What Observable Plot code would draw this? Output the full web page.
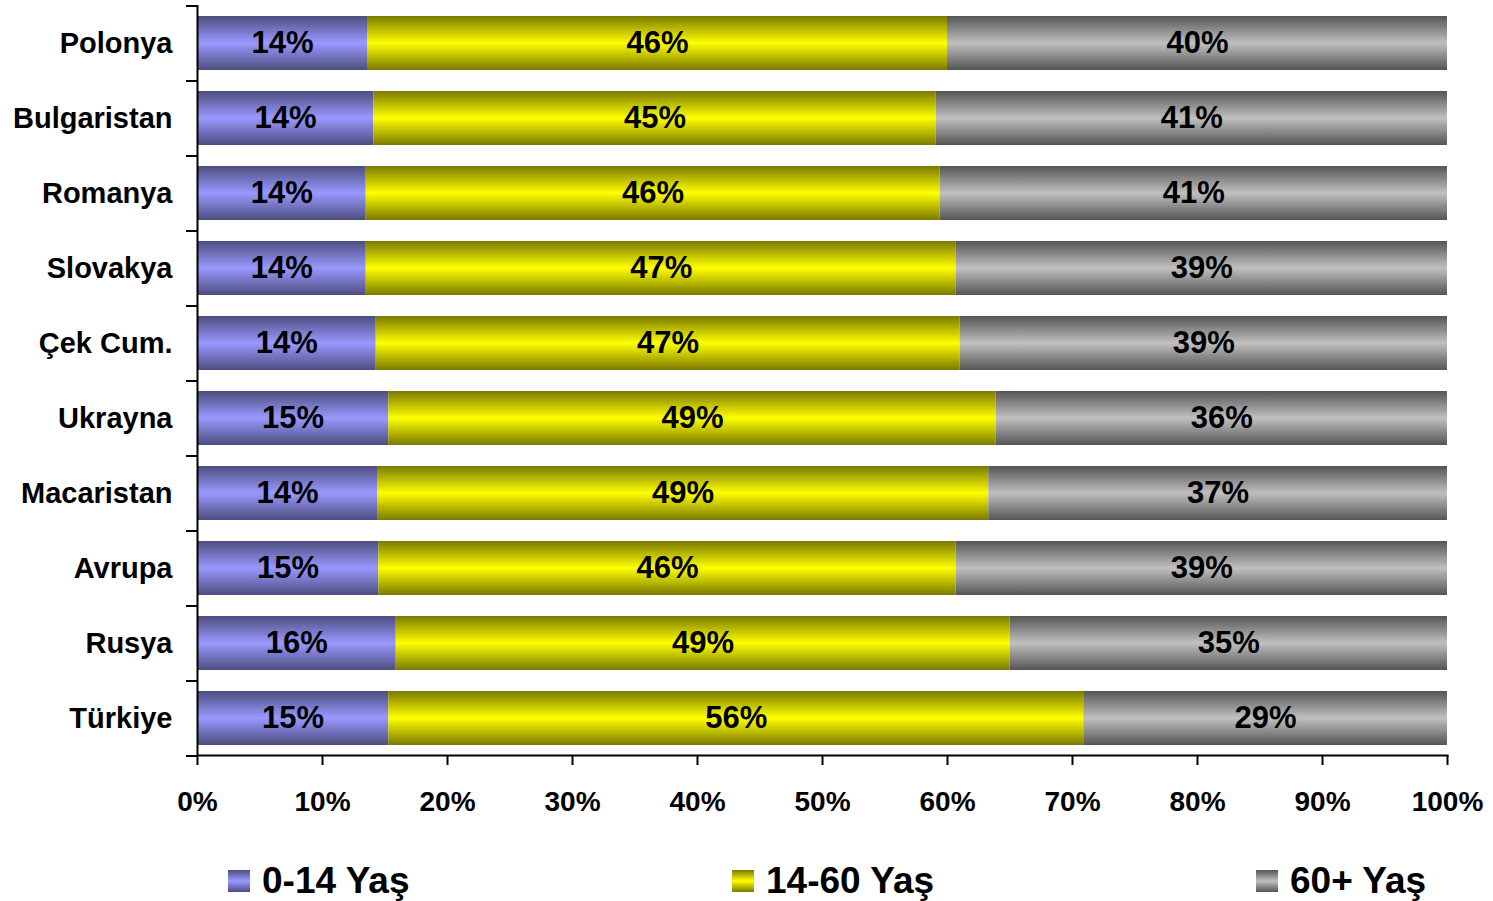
<!DOCTYPE html>
<html>
<head>
<meta charset="utf-8">
<script src="https://cdn.jsdelivr.net/npm/d3@7"></script>
<script src="https://cdn.jsdelivr.net/npm/@observablehq/plot@0.6"></script>
<style>
  html, body { margin: 0; padding: 0; background: #fff; }
  body { width: 1493px; height: 901px; overflow: hidden; font-family: "Liberation Sans", Arial, sans-serif; font-weight: bold; }
  #legend { position: relative; width: 1493px; height: 61px; }
  .item { position: absolute; top: 22px; display: flex; align-items: center; font-size: 37px; line-height: 37px; color: #000; }
  .sw { width: 22px; height: 22px; margin-right: 12px; }
</style>
</head>
<body>
<div id="chart"></div>
<div id="legend"></div>
<script>
const countries = ["Polonya", "Bulgaristan", "Romanya", "Slovakya", "Çek Cum.", "Ukrayna", "Macaristan", "Avrupa", "Rusya", "Türkiye"];
const series = ["0-14 Yaş", "14-60 Yaş", "60+ Yaş"];
const age0_14  = [13.6, 14.1, 13.5, 13.5, 14.3, 15.3, 14.4, 14.5, 15.9, 15.3];
const age14_60 = [46.4, 45.0, 45.9, 47.2, 46.7, 48.6, 48.9, 46.2, 49.1, 55.6];
const age60p   = [40.0, 40.9, 40.6, 39.3, 39.0, 36.1, 36.7, 39.3, 35.0, 29.1];
const xTicks = [0, 10, 20, 30, 40, 50, 60, 70, 80, 90, 100];

const gradients = [
  {id: "gBlue", edge: "#4d4d80", mid: "#9999ff"},
  {id: "gYellow", edge: "#7a7a00", mid: "#ffff00"},
  {id: "gGray", edge: "#555555", mid: "#c0c0c0"}
];

const cols = [age0_14, age14_60, age60p];
const data = [];
countries.forEach((c, i) => {
  series.forEach((s, j) => {
    data.push({country: c, series: s, value: cols[j][i]});
  });
});

const W = 1493, H = 840, mTop = 5, mBottom = 85;
const halfStep = (H - mTop - mBottom) / countries.length / 2;

const plot = Plot.plot({
  width: W,
  height: H,
  marginLeft: 197,
  marginRight: 46,
  marginTop: mTop,
  marginBottom: mBottom,
  style: {fontFamily: "'Liberation Sans', Arial, sans-serif", fontWeight: "bold", color: "#000", background: "#fff"},
  x: {domain: [0, 100], ticks: xTicks, tickFormat: d => d + "%"},
  y: {domain: countries, paddingInner: 0.28, paddingOuter: 0.14},
  color: {type: "ordinal", domain: series, range: gradients.map(g => `url(#${g.id})`)},
  marks: [
    Plot.barX(data, Plot.stackX({x: "value", y: "country", fill: "series", z: "series"})),
    Plot.text(data, Plot.stackX({x: "value", y: "country", z: "series", text: d => Math.round(d.value) + "%", fontSize: 31, fontWeight: "bold", fill: "#000"})),
    Plot.axisY({tickSize: 0, tickPadding: 25, fontSize: 29, fontWeight: "bold", label: null}),
    Plot.axisY({tickSize: 11, text: null, dy: -halfStep, strokeWidth: 2, label: null}),
    Plot.axisY([countries[countries.length - 1]], {tickSize: 11, text: null, dy: halfStep, strokeWidth: 2, label: null}),
    Plot.axisX({ticks: xTicks, tickSize: 10, tickPadding: 26, fontSize: 28, fontWeight: "bold", strokeWidth: 2, label: null, tickFormat: d => d + "%"}),
    Plot.ruleX([0], {strokeWidth: 2, stroke: "#000"}),
    Plot.frame({anchor: "bottom", strokeWidth: 2, stroke: "#000"})
  ]
});

// gradient definitions
const ns = "http://www.w3.org/2000/svg";
const defs = document.createElementNS(ns, "defs");
gradients.forEach(g => {
  const lg = document.createElementNS(ns, "linearGradient");
  lg.setAttribute("id", g.id);
  lg.setAttribute("x1", "0"); lg.setAttribute("y1", "0");
  lg.setAttribute("x2", "0"); lg.setAttribute("y2", "1");
  [[0, g.edge], [0.5, g.mid], [1, g.edge]].forEach(([o, c]) => {
    const st = document.createElementNS(ns, "stop");
    st.setAttribute("offset", o);
    st.setAttribute("stop-color", c);
    lg.appendChild(st);
  });
  defs.appendChild(lg);
});
plot.insertBefore(defs, plot.firstChild);
document.getElementById("chart").appendChild(plot);

// legend
const legendLeft = [228, 732, 1256];
const legend = document.getElementById("legend");
series.forEach((s, i) => {
  const g = gradients[i];
  const item = document.createElement("div");
  item.className = "item";
  item.style.left = legendLeft[i] + "px";
  const sw = document.createElement("div");
  sw.className = "sw";
  sw.style.background = `linear-gradient(to bottom, ${g.edge}, ${g.mid}, ${g.edge})`;
  const t = document.createElement("span");
  t.textContent = s;
  item.appendChild(sw);
  item.appendChild(t);
  legend.appendChild(item);
});
</script>
</body>
</html>
